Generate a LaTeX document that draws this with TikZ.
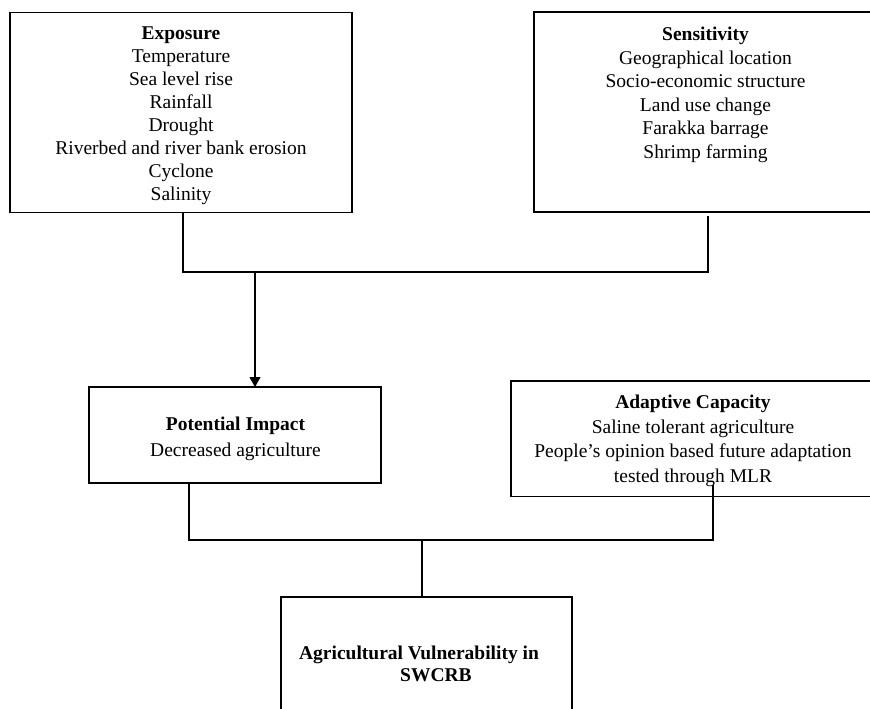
\documentclass[tikz,border=0pt]{standalone}
\usepackage{fontspec}
\setmainfont{Liberation Serif}
\usetikzlibrary{arrows.meta}
\begin{document}
\begin{tikzpicture}[x=1pt,y=-1pt,
  box/.style={draw,line width=1.3pt,inner sep=0pt,outer sep=0pt,rectangle},
  txt/.style={inner sep=0pt,outer sep=0pt,align=center,anchor=north},
  conn/.style={line width=1.1pt},
  arr/.style={line width=1.1pt,-{Triangle[width=11pt,length=10pt]}}]
\useasboundingbox (0,0) rectangle (870,709);
\begin{scope}
\clip (0,0) rectangle (870,709);
% boxes
\node[box,minimum width=342pt,minimum height=199.8pt] (expo) at (181,112.6) {};
\node[box,minimum width=351pt,minimum height=200pt] (sens) at (709.5,112) {};
\node[box,minimum width=292pt,minimum height=96pt] (pot) at (235,435) {};
\node[box,minimum width=374pt,minimum height=115.5pt] (adap) at (698,438.75) {};
\node[box,minimum width=291pt,minimum height=163pt] (vul) at (426.5,678.5) {};
% texts
\node[txt,font=\fontsize{19.5}{23}\selectfont] (expot) at (181,27)
  {\textbf{Exposure}\\Temperature\\Sea level rise\\Rainfall\\Drought\\Riverbed and river bank erosion\\Cyclone\\Salinity};
\node[txt,font=\fontsize{19.5}{23.6}\selectfont] (senst) at (705.5,27)
  {\textbf{Sensitivity}\\Geographical location\\Socio-economic structure\\Land use change\\Farakka barrage\\Shrimp farming};
\node[txt,font=\fontsize{19.5}{26}\selectfont] (pott) at (235.5,417)
  {\textbf{Potential Impact}\\Decreased agriculture};
\node[txt,font=\fontsize{19.5}{24.7}\selectfont] (adapt) at (693,395)
  {\textbf{Adaptive Capacity}\\Saline tolerant agriculture\\People’s opinion based future adaptation\\tested through MLR};
\node[txt,font=\bfseries\fontsize{19.5}{22}\selectfont] (vult) at (419,646)
  {Agricultural Vulnerability in\\\hspace*{34pt}SWCRB};
% connectors
\coordinate (j1) at (183,272);
\coordinate (j2) at (708,272);
\coordinate (ja) at (255,272);
\coordinate (k1) at (189,540);
\coordinate (k2) at (713,540);
\coordinate (kv) at (422,540);
\draw[conn] (expo.south -| j1) -- (j1) -- (j2) -- ([yshift=-4pt]sens.south -| j2);
\draw[arr] (ja) -- (ja |- pot.north);
\draw[conn] (pot.south -| k1) -- (k1) -- (k2) -- ([yshift=12pt]adap.south -| k2);
\draw[conn] (kv) -- (kv |- vul.north);
\end{scope}
\end{tikzpicture}
\end{document}
